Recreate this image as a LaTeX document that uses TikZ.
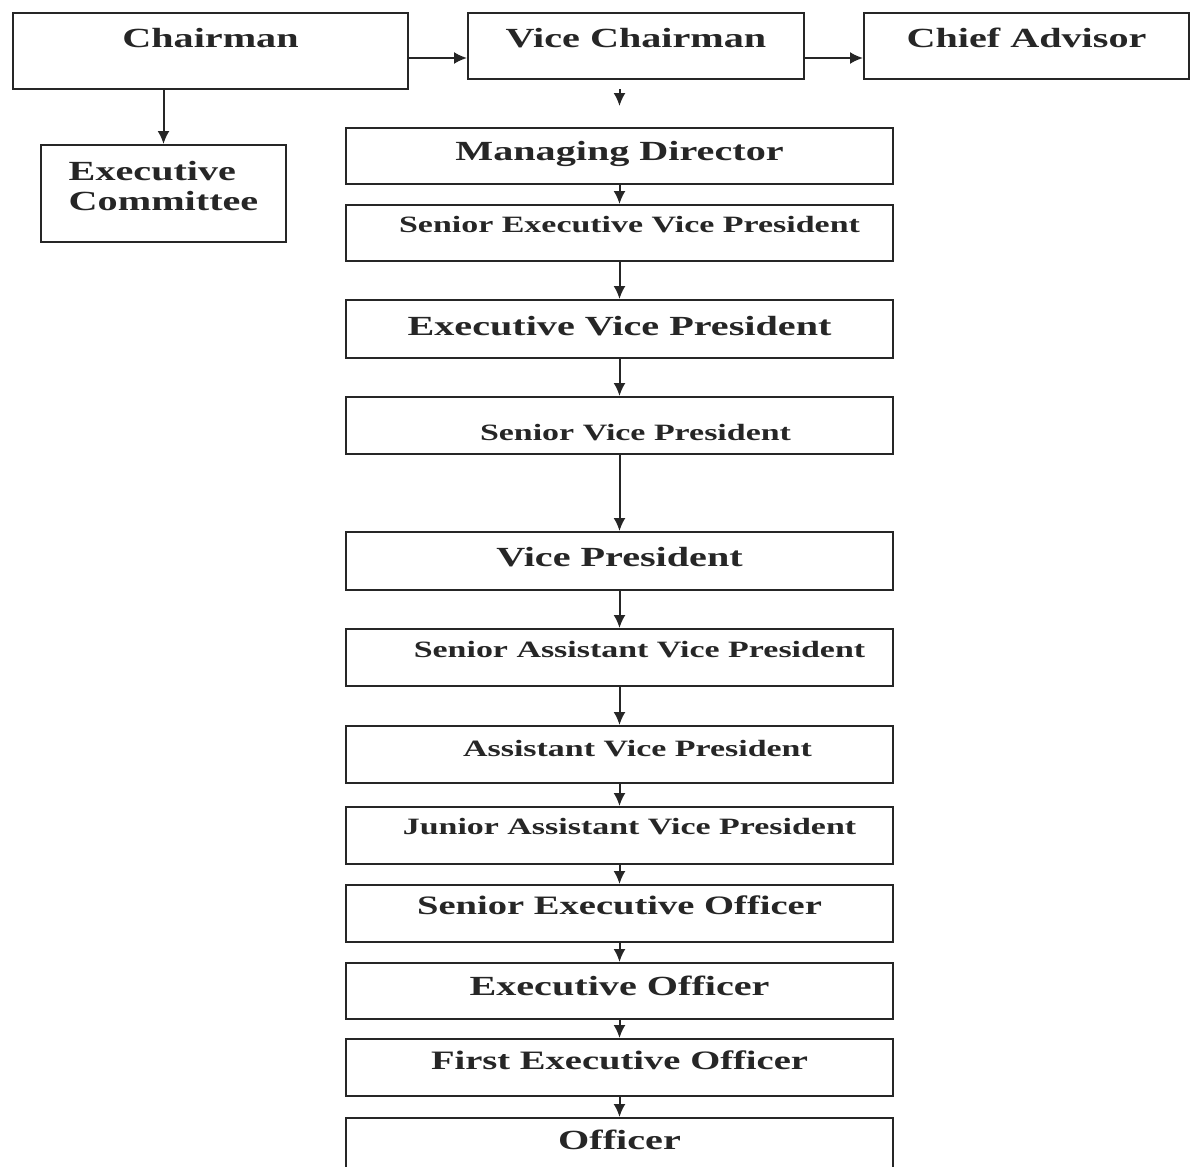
\documentclass[tikz,border=0pt]{standalone}
\usepackage{fontspec}
\usepackage{tikz}
\usetikzlibrary{arrows.meta}
\newfontfamily\orgfont[FakeStretch=1.45]{Liberation Serif}
\def\bigtxt{\orgfont\bfseries\fontsize{27.7}{30}\selectfont}
\def\midtxt{\orgfont\bfseries\fontsize{26.6}{31}\selectfont}
\def\smalltxt{\orgfont\bfseries\fontsize{23.4}{28}\selectfont}
\tikzset{
  post/.style={draw=black!85, line width=2pt, fill=white, inner sep=0pt,
    anchor=north west, text=black!85},
  flow/.style={draw=black!85, line width=2pt, -{Latex[length=13pt,width=12pt]}}
}

\begin{document}
\begin{tikzpicture}[x=1pt,y=-1pt]
		%%%%% START %%%%%
		\useasboundingbox[fill=white] (0,0) rectangle (1192,1167);
		\clip (0,0) rectangle (1192,1167);
		
		% top row
		\node[post, minimum width=395pt, text height=34pt, text depth=42pt] (chair) at (12,12) {\bigtxt Chairman};
		\node[post, minimum width=336pt, text height=34pt, text depth=32pt] (vchair) at (467,12) {\bigtxt Vice Chairman};
		\node[post, minimum width=325pt, text height=34pt, text depth=32pt] (advisor) at (863,12) {\bigtxt Chief Advisor};
		\node[post, minimum width=245pt, minimum height=97pt, font=\bigtxt, align=left] (comm) at (40,144) {Executive\\Committee\\[-14pt]\mbox{}};
		
		% chain
		\node[post, minimum width=547pt, text height=32pt, text depth=24pt] (md) at (345,127) {\bigtxt Managing Director};
		\node[post, minimum width=547pt, text height=27pt, text depth=29pt] (sevp) at (345,204) {\smalltxt\hspace*{20pt}Senior Executive Vice President};
		\node[post, minimum width=547pt, text height=35pt, text depth=23pt] (evp) at (345,299) {\bigtxt Executive Vice President};
		\node[post, minimum width=547pt, text height=43pt, text depth=14pt] (svp) at (345,396) {\smalltxt\hspace*{32pt}Senior Vice President};
		\node[post, minimum width=547pt, text height=34pt, text depth=24pt] (vp) at (345,531) {\bigtxt Vice President};
		\node[post, minimum width=547pt, text height=28pt, text depth=29pt] (savp) at (345,628) {\smalltxt\hspace*{40pt}Senior Assistant Vice President};
		\node[post, minimum width=547pt, text height=30pt, text depth=27pt] (avp) at (345,725) {\smalltxt\hspace*{36pt}Assistant Vice President};
		\node[post, minimum width=547pt, text height=27pt, text depth=30pt] (javp) at (345,806) {\smalltxt\hspace*{20pt}Junior Assistant Vice President};
		\node[post, minimum width=547pt, text height=29pt, text depth=28pt] (seo) at (345,884) {\midtxt Senior Executive Officer};
		\node[post, minimum width=547pt, text height=32pt, text depth=24pt] (eo) at (345,962) {\bigtxt Executive Officer};
		\node[post, minimum width=547pt, text height=30pt, text depth=27pt] (feo) at (345,1038) {\midtxt First Executive Officer};
		\node[post, minimum width=547pt, text height=31pt, text depth=27pt] (off) at (345,1117) {\bigtxt Officer};
		
		% arrows
		\draw[flow] (chair.east |- 0,58) -- (vchair.west |- 0,58);
		\draw[flow] (vchair.east |- 0,58) -- (advisor.west |- 0,58);
		\draw[flow] (chair.south -| comm.north) -- (comm.north);
		\draw[flow, shorten <=9pt, shorten >=21pt] (vchair.south -| md.north) -- (md.north);
		\foreach \a/\b in {md/sevp, sevp/evp, evp/svp, svp/vp, vp/savp, savp/avp,
		                   avp/javp, javp/seo, seo/eo, eo/feo, feo/off}
		  \draw[flow] (\a.south) -- (\b.north);
		
		%%%%% END %%%%%
	\end{tikzpicture}
\end{document}
